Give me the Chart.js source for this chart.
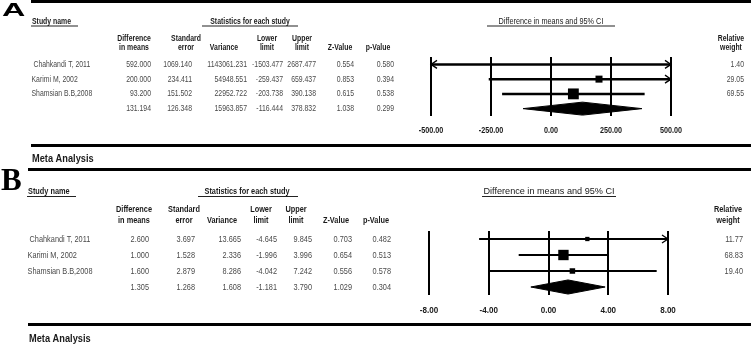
<!DOCTYPE html>
<html>
<head>
<meta charset="utf-8">
<script src="https://cdn.jsdelivr.net/npm/chart.js@4/dist/chart.umd.min.js"></script>
<style>
  html, body { margin: 0; padding: 0; background: #fff; }
  #wrap { position: relative; width: 751px; height: 344px; overflow: hidden; }
  canvas { position: absolute; left: 0; }
</style>
</head>
<body>
<div id="wrap">
  <canvas id="panelA" width="751" height="168" style="top:0"></canvas>
  <canvas id="panelB" width="751" height="176" style="top:168px"></canvas>
</div>
<script>
// ---- data ----
const studyNames = [" Chahkandi T, 2011", "Karimi M, 2002", "Shamsian B.B,2008"];
const columnHeads = [
  ["Difference", "in means"], ["Standard", "error"], ["", "Variance"],
  ["Lower", "limit"], ["Upper", "limit"], ["", "Z-Value"], ["", "p-Value"]
];

// Panel A
const diffA = [592.000, 200.000, 93.200, 131.194];
const seA = [1069.140, 234.411, 151.502, 126.348];
const varA = [1143061.231, 54948.551, 22952.722, 15963.857];
const lowerA = [-1503.477, -259.437, -203.738, -116.444];
const upperA = [2687.477, 659.437, 390.138, 378.832];
const zA = [0.554, 0.853, 0.615, 1.038];
const pA = [0.580, 0.394, 0.538, 0.299];
const weightA = [1.40, 29.05, 69.55];
const ticksA = [-500, -250, 0, 250, 500];

// Panel B
const diffB = [2.600, 1.000, 1.600, 1.305];
const seB = [3.697, 1.528, 2.879, 1.268];
const varB = [13.665, 2.336, 8.286, 1.608];
const lowerB = [-4.645, -1.996, -4.042, -1.181];
const upperB = [9.845, 3.996, 7.242, 3.790];
const zB = [0.703, 0.654, 0.556, 1.029];
const pB = [0.482, 0.513, 0.578, 0.304];
const weightB = [11.77, 68.83, 19.40];
const ticksB = [-8, -4, 0, 4, 8];

// draw text squeezed horizontally (the source figure is condensed)
function drawText(ctx, str, x, y, opt) {
  ctx.save();
  ctx.font = opt.font;
  ctx.fillStyle = opt.color || "#000";
  ctx.textAlign = opt.align || "left";
  ctx.textBaseline = opt.base || "alphabetic";
  ctx.translate(x, y);
  ctx.scale(opt.sx || 1, 1);
  ctx.fillText(str, 0, 0);
  ctx.restore();
}

document.addEventListener("DOMContentLoaded", function () {
  initPanel("panelA", {
    letter: "A", letterFont: "bold 19px 'Liberation Sans'", letterSx: 1.7, letterX: 2, letterY: 16,
    diff: diffA, se: seA, variance: varA, lower: lowerA, upper: upperA, z: zA, p: pA,
    weight: weightA, ticks: ticksA,
    height: 168, area: { left: 431, right: 671, top: 57, bottom: 116 },
    fs: 8.6, sx: 0.8, ciFont: "9px 'Liberation Sans'", ciSx: 0.81,
    tickFont: "bold 9px 'Liberation Sans'", tickSx: 0.8,
    nameX: 31.5, cols: [151, 192, 247, 283, 316, 354, 394], headX: [134, 186, 224, 267, 302, 340, 378],
    weightX: 744, relX: 731,
    titleY: 23.5, ulY: 25.5, head1Y: 41, head2Y: 50, tickY: 131,
    topRule: 0, ruleY: 144, ruleX: 31, metaY: 159,
    nameUl: [31, 78], statsUl: [202, 298], statsX: 250, ciUl: [487, 615], ciX: 551,
    lineW: 2.5, boxK: 1.3
  });
  initPanel("panelB", {
    letter: "B", letterFont: "bold 31px 'Liberation Serif'", letterSx: 1, letterX: 1, letterY: 22,
    diff: diffB, se: seB, variance: varB, lower: lowerB, upper: upperB, z: zB, p: pB,
    weight: weightB, ticks: ticksB,
    height: 176, area: { left: 429, right: 668, top: 63, bottom: 127 },
    fs: 9.2, sx: 0.8, ciFont: "9.5px 'Liberation Sans'", ciSx: 0.96,
    tickFont: "bold 9.5px 'Liberation Sans'", tickSx: 0.85,
    nameX: 27.5, cols: [149, 195, 241, 277, 312, 352, 391], headX: [134, 184, 222, 261, 296, 336, 376],
    weightX: 743, relX: 728,
    titleY: 26, ulY: 28, head1Y: 44, head2Y: 54.5, tickY: 142,
    topRule: 0, ruleY: 155, ruleX: 28, metaY: 171,
    nameUl: [27, 76], statsUl: [198, 298], statsX: 247, ciUl: [482, 616], ciX: 549,
    lineW: 2, boxK: 1.25
  });
});

function initPanel(canvasId, p) {
  const ctx = document.getElementById(canvasId).getContext("2d");
  const nRows = p.diff.length;
  const sum = nRows - 1;
  const datasets = [];

  // confidence interval lines
  p.weight.forEach((w, i) => {
    datasets.push({
      data: [{ x: p.lower[i], y: i }, { x: p.upper[i], y: i }],
      borderColor: "#000",
      borderWidth: p.lineW,
      pointRadius: 0,
      fill: false,
    });
  });

  // study boxes, area proportional to weight
  datasets.push({
    data: p.weight.map((w, i) => ({ x: p.diff[i], y: i })),
    showLine: false,
    pointStyle: "rect",
    pointRadius: p.weight.map((w) => (p.boxK * Math.sqrt(w)) / (2 * Math.SQRT1_2)),
    pointBackgroundColor: "#000",
    pointBorderWidth: 0,
  });

  // summary diamond
  const h = 0.44;
  datasets.push({
    data: [
      { x: p.lower[sum], y: sum },
      { x: p.diff[sum], y: sum - h },
      { x: p.upper[sum], y: sum },
      { x: p.diff[sum], y: sum + h },
      { x: p.lower[sum], y: sum },
    ],
    borderColor: "#000",
    borderWidth: 1,
    backgroundColor: "#000",
    fill: "shape",
    pointRadius: 0,
  });

  const tablePlugin = {
    id: "forestTable",
    afterDatasetsDraw(chart) {
      // arrows where the interval runs off the axis
      const c = chart.ctx;
      const xs = chart.scales.x, ys = chart.scales.y;
      c.save();
      c.strokeStyle = "#000";
      c.lineWidth = 1.3;
      p.weight.forEach((w, i) => {
        const y = ys.getPixelForValue(i);
        if (p.lower[i] < xs.min) {
          const x = xs.getPixelForValue(xs.min);
          c.beginPath();
          c.moveTo(x + 6, y - 4); c.lineTo(x, y); c.lineTo(x + 6, y + 4);
          c.stroke();
        }
        if (p.upper[i] > xs.max) {
          const x = xs.getPixelForValue(xs.max);
          c.beginPath();
          c.moveTo(x - 6, y - 4); c.lineTo(x, y); c.lineTo(x - 6, y + 4);
          c.stroke();
        }
      });
      c.restore();
    },
    afterDraw(chart) {
      const c = chart.ctx;
      const ys = chart.scales.y, xs = chart.scales.x;
      const W = chart.width;
      const bold = "bold " + p.fs + "px 'Liberation Sans'";
      const reg = p.fs + "px 'Liberation Sans'";
      const head = { font: bold, color: "#1a1a1a", sx: p.sx };

      c.save();
      c.fillStyle = "#000";
      c.fillRect(p.ruleX, p.topRule, W - p.ruleX, 3);
      c.fillRect(p.ruleX, p.ruleY, W - p.ruleX, 3);

      drawText(c, p.letter, p.letterX, p.letterY, { font: p.letterFont, sx: p.letterSx });

      // group titles
      drawText(c, "Study name", p.nameUl[0] + 1, p.titleY, head);
      drawText(c, "Statistics for each study", p.statsX, p.titleY, Object.assign({}, head, { align: "center" }));
      drawText(c, "Difference in means and 95% CI", p.ciX, p.titleY,
        { font: p.ciFont, color: "#1a1a1a", sx: p.ciSx, align: "center" });
      c.fillStyle = "#222";
      c.fillRect(p.nameUl[0], p.ulY, p.nameUl[1] - p.nameUl[0], 1);
      c.fillRect(p.statsUl[0], p.ulY, p.statsUl[1] - p.statsUl[0], 1);
      c.fillRect(p.ciUl[0], p.ulY, p.ciUl[1] - p.ciUl[0], 1);

      // column headers
      columnHeads.forEach((hd, k) => {
        const o = Object.assign({}, head, { align: "center" });
        if (hd[0]) drawText(c, hd[0], p.headX[k], p.head1Y, o);
        drawText(c, hd[1], p.headX[k], p.head2Y, o);
      });
      drawText(c, "Relative", p.relX, p.head1Y, Object.assign({}, head, { align: "center" }));
      drawText(c, "weight", p.relX, p.head2Y, Object.assign({}, head, { align: "center" }));

      // rows
      const cell = { font: reg, color: "#4a4a4a", sx: p.sx, align: "right", base: "middle" };
      const cols = [p.diff, p.se, p.variance, p.lower, p.upper, p.z, p.p];
      for (let i = 0; i < nRows; i++) {
        const y = ys.getPixelForValue(i);
        if (i < studyNames.length) {
          drawText(c, studyNames[i], p.nameX, y, Object.assign({}, cell, { align: "left" }));
          drawText(c, p.weight[i].toFixed(2), p.weightX, y, cell);
        }
        cols.forEach((arr, k) => drawText(c, arr[i].toFixed(3), p.cols[k], y, cell));
      }

      // axis labels
      p.ticks.forEach((t) => {
        drawText(c, t.toFixed(2), xs.getPixelForValue(t), p.tickY,
          { font: p.tickFont, color: "#1a1a1a", sx: p.tickSx, align: "center", base: "middle" });
      });

      drawText(c, "Meta Analysis", p.ruleX + 1, p.metaY,
        { font: "bold 11px 'Liberation Sans'", color: "#1a1a1a", sx: 0.84, base: "middle" });
      c.restore();
    },
  };

  new Chart(ctx, {
    type: "line",
    data: { datasets: datasets },
    options: {
      responsive: false,
      animation: false,
      events: [],
      layout: {
        padding: {
          left: p.area.left,
          right: 751 - p.area.right,
          top: p.area.top,
          bottom: p.height - p.area.bottom,
        },
      },
      plugins: { legend: { display: false }, tooltip: { enabled: false } },
      scales: {
        x: {
          type: "linear",
          min: p.ticks[0],
          max: p.ticks[p.ticks.length - 1],
          afterBuildTicks: (s) => { s.ticks = p.ticks.map((v) => ({ value: v })); },
          afterFit: (s) => { s.height = 0; },
          grid: { color: "#000", lineWidth: 2, drawTicks: false },
          border: { display: false },
          ticks: { display: false },
        },
        y: {
          type: "linear",
          display: false,
          reverse: true,
          min: -0.5,
          max: nRows - 0.5,
        },
      },
    },
    plugins: [tablePlugin],
  });
}
</script>
</body>
</html>
